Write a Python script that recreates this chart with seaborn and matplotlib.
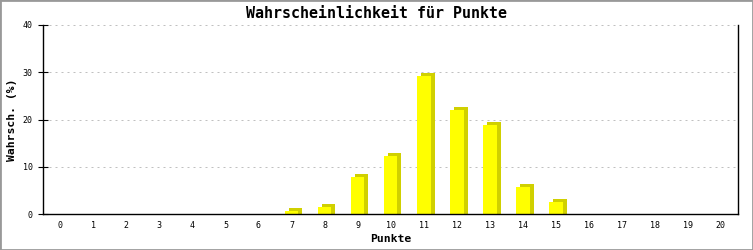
import matplotlib
matplotlib.use("Agg")
import matplotlib.pyplot as plt
import matplotlib.transforms as mtransforms
from matplotlib.patches import Rectangle
import seaborn as sns
import pandas as pd

# Data
punkte = list(range(0, 21))
wahrscheinlichkeit = [0, 0, 0, 0, 0, 0, 0, 0.7, 1.6, 7.8, 12.4, 29.3, 22.1, 18.8, 5.7, 2.6, 0, 0, 0, 0, 0]
y_ticks = [0, 10, 20, 30, 40]
title = "Wahrscheinlichkeit für Punkte"
xlabel = "Punkte"
ylabel = "Wahrsch. (%)"

df = pd.DataFrame({"Punkte": [str(p) for p in punkte], "Wert": wahrscheinlichkeit})

sns.set_style("white")
plt.rcParams["font.family"] = ["DejaVu Sans Mono", "DejaVu Sans"]
plt.rcParams["text.color"] = "black"

fig = plt.figure(figsize=(7.53, 2.5), dpi=100)
ax = fig.add_axes([43.3 / 753, 1 - 214.3 / 250, (738.3 - 43.3) / 753, (214.3 - 25) / 250])

# shadow layer
sns.barplot(data=df, x="Punkte", y="Wert", color="#D0D000", saturation=1,
            width=0.42, ax=ax, zorder=2, errorbar=None)
n_shadow = len(ax.patches)
offset = mtransforms.ScaledTranslation(4 / 100, 3 / 100, fig.dpi_scale_trans)
for p, v in zip(ax.patches[:n_shadow], wahrscheinlichkeit):
    p.set_transform(ax.transData + offset)
    p.set_linewidth(0)
    # extend downward so the shifted shadow still reaches the axis line
    p.set_y(-2)
    p.set_height(p.get_height() + 2)
    p.set_clip_on(True)
    if v == 0:
        p.set_visible(False)

# front layer
sns.barplot(data=df, x="Punkte", y="Wert", color="#FFFF00", saturation=1,
            width=0.42, ax=ax, zorder=3, errorbar=None)
for p in ax.patches[n_shadow:]:
    p.set_linewidth(0)

ax.set_xlim(-0.515, 20.53)
ax.set_ylim(0, 40)
ax.set_yticks(y_ticks)
ax.set_yticklabels([str(t) for t in y_ticks])

ax.yaxis.grid(True, color="#C0C0C0", linewidth=0.72, linestyle=(0, (2, 4)))
ax.set_axisbelow(True)

for side in ["left", "bottom", "right"]:
    ax.spines[side].set_visible(True)
    ax.spines[side].set_color("black")
    ax.spines[side].set_linewidth(1.0)
    ax.spines[side].set_zorder(5)
ax.spines["top"].set_visible(False)

ax.tick_params(axis="y", direction="inout", length=7, width=0.8, pad=4,
               labelsize=6, colors="black", left=True, right=False)
ax.tick_params(axis="x", length=0, pad=5, labelsize=6, colors="black")

ax.set_xlabel("")
ax.set_ylabel("")
fig.text((43.3 + 738.3) / 2 / 753, 0.044, xlabel, ha="center", va="center",
         fontsize=8.2, fontweight="bold", color="black")
fig.text(12 / 753, 1 - 120 / 250, ylabel, ha="center", va="center",
         rotation=90, fontsize=8.2, fontweight="bold", color="black")
fig.text(0.5, 1 - 13 / 250, title, ha="center", va="center",
         fontsize=10.8, fontweight="bold", color="black")

fig.patches.append(Rectangle((0, 0), 1, 1, transform=fig.transFigure,
                             fill=False, edgecolor="#999999", linewidth=2.0))

fig.savefig("out.png", dpi=100)
